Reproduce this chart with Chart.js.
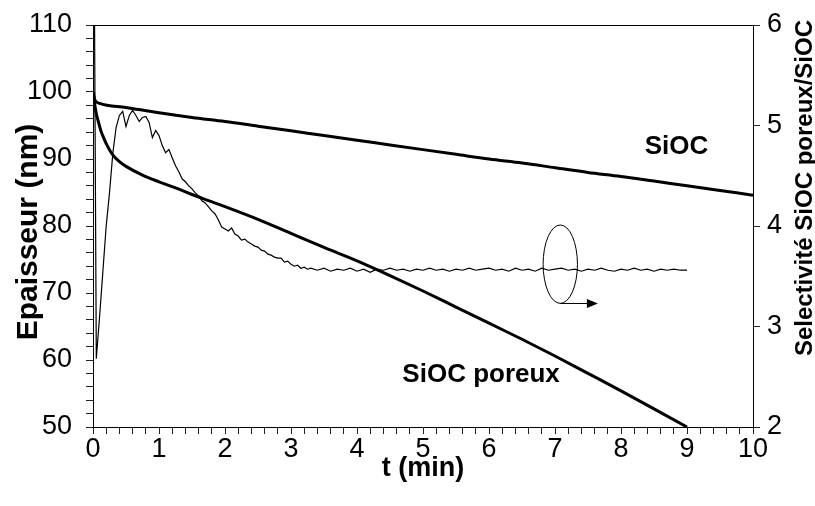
<!DOCTYPE html>
<html>
  <head>
    <script src="https://cdn.jsdelivr.net/npm/chart.js@4.4.1/dist/chart.umd.min.js"></script>
    <style>
      body { margin: 0; background: #fff; }
    </style>
  </head>

  <body>
    <canvas id="canvas" width="815" height="506"></canvas>
    <script>
      // epaisseur SiOC (nm)
      const tSiOC = [0, 0.03, 0.1, 0.5, 1, 1.5, 2, 2.5, 3, 3.5, 4, 4.5, 5, 5.5, 6, 6.5, 7, 7.5, 8, 8.5, 9, 9.5, 10];
      const siocNm = [100, 98.8, 98.3, 97.7, 96.9, 96.2, 95.6, 94.9, 94.2, 93.5, 92.8, 92.1, 91.4, 90.7, 90.0, 89.4, 88.7, 88.0, 87.4, 86.7, 86.0, 85.3, 84.6];

      // epaisseur SiOC poreux (nm)
      const tPoreux = [0, 0.02, 0.05, 0.08, 0.12, 0.16, 0.2, 0.3, 0.4, 0.5, 0.75, 1, 1.25, 1.5, 1.75, 2, 2.5, 3, 3.5, 4, 4.5, 5, 5.5, 6, 6.5, 7, 7.5, 8, 8.5, 9];
      const poreuxNm = [100, 98.5, 96.8, 95.6, 94.2, 93.2, 92.3, 90.6, 89.6, 88.9, 87.6, 86.6, 85.7, 84.7, 83.8, 82.9, 81.0, 78.9, 76.8, 74.8, 72.6, 70.3, 67.9, 65.5, 63.1, 60.6, 58.0, 55.4, 52.7, 50.0];

      // selectivite SiOC poreux / SiOC (axe de droite)
      const tSelect = [
        0, 0.05, 0.1, 0.15, 0.2, 0.25, 0.3, 0.35, 0.4, 0.45, 0.5, 0.55, 0.6, 0.65, 0.7, 0.75, 0.8, 0.85, 0.9, 0.95,
        1.0, 1.05, 1.1, 1.15, 1.2, 1.25, 1.3, 1.35, 1.4, 1.45, 1.5, 1.55, 1.6, 1.65, 1.7, 1.75, 1.8, 1.85, 1.9, 1.95,
        2.0, 2.05, 2.1, 2.15, 2.2, 2.25, 2.3, 2.35, 2.4, 2.45, 2.5, 2.55, 2.6, 2.65, 2.7, 2.75, 2.8, 2.85, 2.9, 2.95,
        3.0, 3.05, 3.1, 3.15, 3.2, 3.25, 3.3,
        3.4, 3.5, 3.6, 3.7, 3.8, 3.9, 4.0, 4.1, 4.2, 4.3, 4.4, 4.5, 4.6, 4.7, 4.8, 4.9,
        5.0, 5.1, 5.2, 5.3, 5.4, 5.5, 5.6, 5.7, 5.8, 5.9, 6.0, 6.1, 6.2, 6.3, 6.4, 6.5, 6.6, 6.7, 6.8, 6.9,
        7.0, 7.1, 7.2, 7.3, 7.4, 7.5, 7.6, 7.7, 7.8, 7.9, 8.0, 8.1, 8.2, 8.3, 8.4, 8.5, 8.6, 8.7, 8.8, 8.9, 9.0
      ];
      const selectivite = [
        9.0, 2.68, 3.1, 3.55, 4.0, 4.33, 4.72, 4.98, 5.1, 5.14, 4.99, 5.1, 5.15, 5.1, 5.04, 5.08, 5.09, 5.03, 4.88, 4.95,
        4.9, 4.8, 4.73, 4.76, 4.68, 4.6, 4.54, 4.47, 4.44, 4.4, 4.37, 4.33, 4.3, 4.25, 4.23, 4.19, 4.15, 4.12, 4.06, 3.99,
        3.97, 3.95, 3.98, 3.92, 3.9, 3.86, 3.87, 3.84, 3.82, 3.8, 3.79, 3.76, 3.75, 3.72, 3.71, 3.69, 3.68, 3.68, 3.64, 3.65,
        3.62, 3.6, 3.61, 3.58, 3.59, 3.57, 3.58,
        3.56, 3.58, 3.55, 3.57, 3.56, 3.58, 3.55, 3.57, 3.54, 3.57, 3.56, 3.58, 3.56, 3.57, 3.55, 3.57,
        3.56, 3.58, 3.56, 3.57, 3.55, 3.57, 3.56, 3.58, 3.56, 3.57, 3.58, 3.56, 3.57, 3.55, 3.58, 3.56, 3.57, 3.55, 3.58, 3.56,
        3.57, 3.58, 3.56, 3.57, 3.55, 3.57, 3.56, 3.58, 3.56, 3.55, 3.57, 3.56, 3.58, 3.56, 3.57, 3.55, 3.57, 3.56, 3.57, 3.56, 3.56
      ];

      const xLabels = [0, 1, 2, 3, 4, 5, 6, 7, 8, 9, 10];
      const yLeftLabels = [50, 60, 70, 80, 90, 100, 110];
      const yRightLabels = [2, 3, 4, 5, 6];
      const curveLabels = ['SiOC', 'SiOC poreux'];
      const axisTitles = { x: 't (min)', y: 'Epaisseur (nm)', y2: 'Selectivité SiOC poreux/SiOC' };

      const FONT = '"Liberation Sans", Arial, sans-serif';
      Chart.defaults.font.family = FONT;
      Chart.defaults.color = '#000';

      const pairs = (xs, ys) => xs.map((t, i) => ({ x: t, y: ys[i] }));
      const onLabel = (list) => (v) => {
        const r = Math.round(v);
        return Math.abs(v - r) < 1e-6 && list.includes(r) ? String(r) : '';
      };
      // fixed box sizes so the plot area stays at 93..753 x 25..427
      const fitBox = (w, h) => (s) => {
        if (w !== null) s.width = w;
        if (h !== null) s.height = h;
        s.paddingTop = s.paddingBottom = s.paddingLeft = s.paddingRight = 0;
      };

      // cadre du haut, titres verticaux, ellipse + fleche, noms des courbes
      const extras = {
        id: 'extras',
        afterDraw(chart) {
          const { ctx, chartArea: a, scales: { x, y, y2 } } = chart;
          ctx.save();
          ctx.strokeStyle = '#000';
          ctx.fillStyle = '#000';
          ctx.lineWidth = 1;

          ctx.beginPath();
          ctx.moveTo(a.left, a.top + 0.5);
          ctx.lineTo(a.right, a.top + 0.5);
          ctx.stroke();

          const cx = x.getPixelForValue(7.08);
          const cy = y2.getPixelForValue(3.62);
          const rx = x.getPixelForValue(7.34) - cx;
          const ry = cy - y2.getPixelForValue(4.01);
          ctx.beginPath();
          ctx.ellipse(cx, cy, rx, ry, 0, 0, Math.PI * 2);
          ctx.stroke();

          const ay = Math.round(cy + ry) + 0.5;
          const tip = x.getPixelForValue(7.65);
          ctx.beginPath();
          ctx.moveTo(cx, ay);
          ctx.lineTo(tip - 9, ay);
          ctx.stroke();
          ctx.beginPath();
          ctx.moveTo(tip, ay);
          ctx.lineTo(tip - 11, ay - 4.5);
          ctx.lineTo(tip - 11, ay + 4.5);
          ctx.closePath();
          ctx.fill();

          ctx.font = 'bold 26px ' + FONT;
          ctx.textAlign = 'center';
          ctx.textBaseline = 'middle';
          ctx.fillText(curveLabels[0], x.getPixelForValue(8.84), y.getPixelForValue(91.8));
          ctx.fillText(curveLabels[1], x.getPixelForValue(5.88), y.getPixelForValue(57.8));

          ctx.textBaseline = 'alphabetic';
          ctx.font = 'bold 30px ' + FONT;
          ctx.save();
          ctx.translate(37, (a.top + a.bottom) / 2 + 6);
          ctx.rotate(-Math.PI / 2);
          ctx.textAlign = 'center';
          ctx.fillText(axisTitles.y, 0, 0);
          ctx.restore();

          ctx.font = 'bold 24px ' + FONT;
          ctx.save();
          ctx.translate(812, a.top - 5);
          ctx.rotate(-Math.PI / 2);
          ctx.textAlign = 'right';
          ctx.fillText(axisTitles.y2, 0, 0);
          ctx.restore();

          ctx.restore();
        }
      };

      new Chart(document.getElementById('canvas').getContext('2d'), {
        type: 'line',
        data: {
          datasets: [
            {
              label: curveLabels[0],
              data: pairs(tSiOC, siocNm),
              yAxisID: 'y',
              borderColor: '#000',
              borderWidth: 3,
              pointRadius: 0,
              cubicInterpolationMode: 'monotone',
            },
            {
              label: curveLabels[1],
              data: pairs(tPoreux, poreuxNm),
              yAxisID: 'y',
              borderColor: '#000',
              borderWidth: 3,
              pointRadius: 0,
              cubicInterpolationMode: 'monotone',
            },
            {
              label: axisTitles.y2,
              data: pairs(tSelect, selectivite),
              yAxisID: 'y2',
              borderColor: '#000',
              borderWidth: 1.2,
              pointRadius: 0,
              tension: 0,
            },
          ],
        },
        options: {
          responsive: false,
          animation: false,
          layout: { padding: { top: 25, left: 0, right: 0, bottom: 0 } },
          plugins: {
            legend: { display: false },
            tooltip: { enabled: false },
          },
          scales: {
            x: {
              type: 'linear',
              min: 0,
              max: 10,
              ticks: {
                stepSize: 0.2,
                autoSkip: false,
                maxRotation: 0,
                padding: 2,
                font: { size: 27, lineHeight: 1 },
                callback: onLabel(xLabels),
              },
              grid: { drawOnChartArea: false, tickLength: 7, tickColor: '#222' },
              border: { color: '#000', width: 1 },
              title: {
                display: true,
                text: axisTitles.x,
                font: { size: 27, weight: 'bold' },
                padding: { top: 0, bottom: 21 },
              },
              afterFit: fitBox(null, 79),
            },
            y: {
              position: 'left',
              min: 50,
              max: 110,
              ticks: {
                stepSize: 2,
                autoSkip: false,
                padding: 14,
                font: { size: 27 },
                callback: onLabel(yLeftLabels),
              },
              grid: { drawOnChartArea: false, tickLength: 7, tickColor: '#222' },
              border: { color: '#000', width: 1 },
              afterFit: fitBox(93, null),
            },
            y2: {
              position: 'right',
              min: 2,
              max: 6,
              ticks: {
                stepSize: 1,
                padding: 7,
                font: { size: 27 },
                callback: onLabel(yRightLabels),
              },
              grid: { drawOnChartArea: false, tickLength: 7, tickColor: '#222' },
              border: { color: '#000', width: 1 },
              afterFit: fitBox(62, null),
            },
          },
        },
        plugins: [extras],
      });
    </script>
  </body>
</html>
